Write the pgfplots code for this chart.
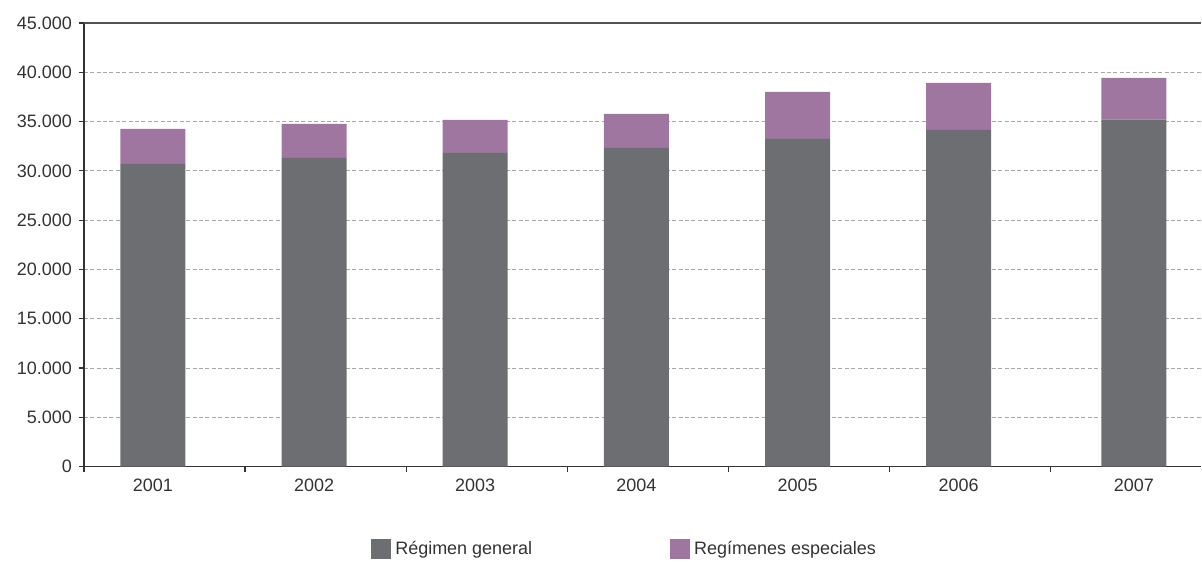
\documentclass[border=0pt]{standalone}
\usepackage{pgfplots}
\pgfplotsset{compat=1.18}
\usepackage{fontspec}
\setmainfont{Liberation Sans}

\definecolor{general}{HTML}{6D6E72}
\definecolor{especial}{HTML}{9E76A0}
\definecolor{txt}{HTML}{333333}
\definecolor{gridc}{HTML}{A8A8A8}

\begin{document}
\begin{tikzpicture}
\begin{axis}[
    scale only axis,
    width=559pt, height=222pt,
    ybar stacked,
    bar width=0.403,
    xmin=-0.428, xmax=6.503,
    ymin=0, ymax=45000,
    axis x line*=bottom,
    axis y line*=left,
    axis line style={-, color=txt, line width=0.6pt},
    tick align=outside,
    major tick length=2.5pt,
    tick style={color=txt, line width=0.6pt},
    xtick={-0.428,0.572,1.572,2.572,3.572,4.572,5.572},
    xticklabels={{},{},{},{},{},{},{}},
    extra x ticks={0,1,2,3,4,5,6.087},
    extra x tick labels={2001,2002,2003,2004,2005,2006,2007},
    extra x tick style={tick style={draw=none}},
    ytick={0,5000,...,45000},
    scaled y ticks=false,
    yticklabel style={/pgf/number format/.cd, fixed, 1000 sep={.}, assume math mode=true},
    ymajorgrids,
    grid style={dashed, color=gridc, line width=0.5pt, dash pattern=on 2pt off 1.2pt},
    ticklabel style={font=\fontsize{9}{10}\selectfont, color=txt},
    xticklabel style={yshift=0pt},
    legend style={
        at={(0.485,-0.149)}, anchor=north,
        draw=none, legend columns=2,
        font=\fontsize{9}{10}\selectfont, text=txt,
        /tikz/every even column/.append style={column sep=67pt}
    },
    legend image code/.code={\fill[#1] (0pt,-5pt) rectangle (10pt,5pt);},
    after end axis/.code={
        \draw[color=txt!85, line width=1.1pt] (rel axis cs:0,1) -- (rel axis cs:1,1);
        % blank margins as in the reference
        \path (rel axis cs:0,1) ++(-42pt,11.5pt);
        \path (rel axis cs:0,0) ++(0pt,-46pt);
    },
]

% Régimen general
\addplot[fill=general, draw=none] coordinates {
    (0,30700) (1,31320) (2,31820) (3,32330) (4,33240) (5,34150) (6.087,35200)
};

% Regímenes especiales
\addplot[fill=especial, draw=none] coordinates {
    (0,3550) (1,3440) (2,3350) (3,3450) (4,4760) (5,4770) (6.087,4220)
};

\legend{Régimen general, Regímenes especiales}
\end{axis}
\end{tikzpicture}
\end{document}
